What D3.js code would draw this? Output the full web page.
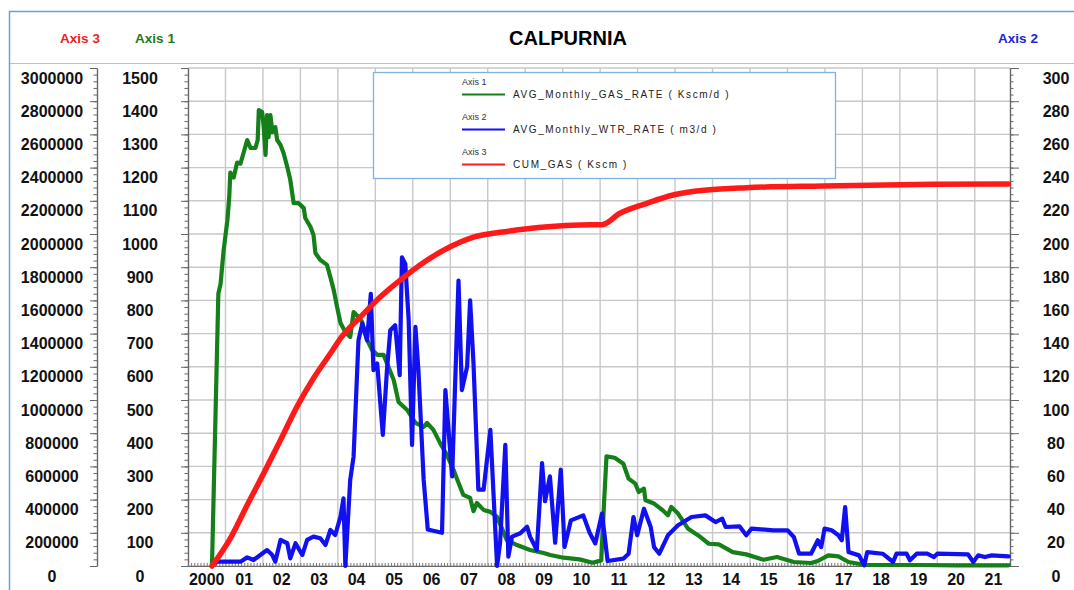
<!DOCTYPE html>
<html>
<head>
<meta charset="utf-8">
<script src="https://cdn.jsdelivr.net/npm/d3@7"></script>
<style>
  body { margin: 0; background: #fff; }
  svg { display: block; font-family: "Liberation Sans", Arial, sans-serif; }
</style>
</head>
<body>
<div id="chart"></div>
<script>
// [decimal year, value]
const gasRate = [
  [2000.64, 0], [2000.81, 820], [2000.87, 850], [2000.95, 950], [2001.05, 1040],
  [2001.10, 1110], [2001.13, 1185], [2001.22, 1170], [2001.31, 1215], [2001.40, 1212],
  [2001.49, 1247], [2001.58, 1283], [2001.67, 1259], [2001.80, 1259], [2001.86, 1283],
  [2001.89, 1373], [2001.98, 1367], [2002.02, 1322], [2002.07, 1238], [2002.11, 1358],
  [2002.15, 1292], [2002.20, 1358], [2002.25, 1307], [2002.33, 1322], [2002.38, 1283],
  [2002.47, 1268], [2002.55, 1244], [2002.65, 1202], [2002.73, 1163], [2002.82, 1093],
  [2002.95, 1093], [2003.09, 1078], [2003.13, 1048], [2003.27, 1021], [2003.35, 997],
  [2003.40, 943], [2003.53, 922], [2003.71, 907], [2003.80, 870], [2003.89, 831],
  [2003.98, 780], [2004.07, 732], [2004.20, 705], [2004.33, 690], [2004.42, 765],
  [2004.55, 750], [2004.65, 735], [2004.78, 681], [2004.91, 651], [2005.05, 636],
  [2005.22, 636], [2005.31, 611], [2005.49, 560], [2005.62, 494], [2005.85, 470],
  [2006.07, 431], [2006.29, 419], [2006.38, 431], [2006.55, 410], [2006.73, 370],
  [2006.91, 335], [2007.09, 289], [2007.18, 262], [2007.35, 214], [2007.53, 205],
  [2007.62, 165], [2007.71, 190], [2007.89, 169], [2008.07, 163], [2008.25, 148],
  [2008.51, 78], [2008.78, 63], [2009.13, 48], [2009.49, 39], [2009.67, 33],
  [2010.02, 25], [2010.45, 20], [2010.80, 10], [2011.03, 17], [2011.10, 180],
  [2011.17, 330], [2011.39, 326], [2011.62, 308], [2011.76, 263], [2011.94, 248],
  [2012.03, 223], [2012.17, 233], [2012.21, 198], [2012.44, 188], [2012.67, 168],
  [2012.81, 153], [2012.90, 178], [2013.08, 158], [2013.35, 112], [2013.62, 92],
  [2013.90, 67], [2014.17, 65], [2014.54, 42], [2014.90, 35], [2015.36, 19],
  [2015.72, 27], [2016.17, 12], [2016.63, 9], [2016.81, 15], [2017.09, 32],
  [2017.36, 29], [2017.63, 12], [2018.09, 3], [2019.45, 3], [2020.50, 2], [2021.90, 2]
];

const waterRate = [
  [2000.64, 0], [2000.78, 2.6], [2001.40, 2.6], [2001.58, 5.2], [2001.75, 3.6],
  [2001.93, 6.6], [2002.11, 9.6], [2002.25, 6.6], [2002.33, 2.6], [2002.47, 15.7],
  [2002.65, 13.7], [2002.73, 4.6], [2002.87, 13.7], [2003.05, 6.6], [2003.18, 15.7],
  [2003.35, 17.7], [2003.53, 16.7], [2003.67, 12.7], [2003.80, 21.7], [2003.93, 18.7],
  [2004.07, 29.7], [2004.15, 40.8], [2004.20, 0], [2004.33, 52], [2004.42, 66],
  [2004.55, 136], [2004.65, 146], [2004.78, 136], [2004.88, 164], [2004.95, 118],
  [2005.05, 122], [2005.20, 79], [2005.31, 118], [2005.40, 142], [2005.53, 145],
  [2005.65, 115], [2005.71, 186], [2005.80, 182], [2005.89, 148], [2005.98, 73],
  [2006.07, 144], [2006.15, 118], [2006.29, 52], [2006.40, 22], [2006.78, 20],
  [2006.87, 106], [2007.05, 54], [2007.22, 172], [2007.31, 106], [2007.45, 120],
  [2007.53, 160], [2007.62, 122], [2007.75, 46], [2007.89, 46], [2008.07, 82],
  [2008.25, 0], [2008.33, 14], [2008.47, 73], [2008.55, 5.6], [2008.65, 17.7],
  [2008.87, 19.7], [2009.05, 23.7], [2009.13, 17.7], [2009.31, 9.6], [2009.45, 62],
  [2009.53, 39], [2009.66, 54], [2009.80, 14], [2009.95, 58], [2010.05, 11.5],
  [2010.22, 27.5], [2010.55, 30.5], [2010.72, 20], [2010.87, 13.6], [2011.05, 31.6],
  [2011.20, 3], [2011.62, 4.4], [2011.76, 7.4], [2011.89, 29.5], [2011.99, 18.5],
  [2012.17, 34.5], [2012.35, 23.5], [2012.44, 11.4], [2012.58, 7.4], [2012.81, 18.5],
  [2013.08, 24.5], [2013.44, 29.5], [2013.81, 30.5], [2014.08, 26.5], [2014.26, 28.5],
  [2014.35, 23.5], [2014.72, 23.9], [2014.90, 18.5], [2015.04, 22.5], [2015.63, 21.5],
  [2016.00, 21.5], [2016.17, 17.5], [2016.31, 7.4], [2016.63, 7.4], [2016.81, 15.5],
  [2016.90, 11.4], [2016.99, 22.5], [2017.18, 21.5], [2017.36, 18.5], [2017.45, 15.5],
  [2017.54, 35.5], [2017.63, 8.4], [2017.91, 6.4], [2018.05, 0.4], [2018.13, 8.4],
  [2018.54, 7.4], [2018.82, 2.4], [2018.91, 7.4], [2019.18, 7.4], [2019.27, 3.4],
  [2019.45, 7.4], [2019.73, 7.4], [2019.91, 5.4], [2020.00, 7.4], [2020.82, 7.0],
  [2020.96, 2.4], [2021.09, 6.4], [2021.27, 5.4], [2021.45, 6.4], [2021.90, 5.8]
];

const cumGas = [
  [2000.64, 0], [2001.13, 167000], [2001.58, 367000], [2002.02, 558000],
  [2002.47, 759000], [2002.91, 960000], [2003.35, 1131000], [2003.80, 1280000],
  [2004.10, 1380000], [2004.69, 1520000], [2005.13, 1620000], [2005.67, 1723000],
  [2006.30, 1830000], [2007.00, 1923000], [2007.60, 1980000], [2008.33, 2010000],
  [2009.00, 2030000], [2009.70, 2045000], [2010.47, 2054000], [2011.05, 2056000],
  [2011.53, 2125000], [2012.25, 2185000], [2012.95, 2235000], [2013.85, 2265000],
  [2014.91, 2279000], [2016.95, 2289000], [2019.89, 2299000], [2021.90, 2301000]
];

const yearLabels = ["2000", "01", "02", "03", "04", "05", "06", "07", "08", "09", "10",
  "11", "12", "13", "14", "15", "16", "17", "18", "19", "20", "21"];
const axis1Ticks = d3.range(0, 1501, 100);
const axis2Ticks = d3.range(0, 301, 20);
const axis3Ticks = d3.range(0, 3000001, 200000);

const seriesInfo = [
  { axis: "Axis 1", name: "AVG_Monthly_GAS_RATE ( Kscm/d )", color: "#15801a" },
  { axis: "Axis 2", name: "AVG_Monthly_WTR_RATE ( m3/d )", color: "#1010f0" },
  { axis: "Axis 3", name: "CUM_GAS ( Kscm )", color: "#ff1a1a" }
];

const width = 1074, height = 590;
const plot = { left: 188, right: 1010, top: 68, bottom: 566 };

const svg = d3.select("#chart").append("svg")
  .attr("width", width)
  .attr("height", height);

const x = d3.scaleLinear().domain([2000, 2021.94]).range([plot.left, plot.right]);
const y1 = d3.scaleLinear().domain([0, 1500]).range([plot.bottom, plot.top]);
const y2 = d3.scaleLinear().domain([0, 300]).range([plot.bottom, plot.top]);
const y3 = d3.scaleLinear().domain([0, 3000000]).range([plot.bottom, plot.top]);

// frame + header separator
svg.append("rect")
  .attr("x", 9.5).attr("y", 11.5)
  .attr("width", 1080).attr("height", 600)
  .attr("fill", "none").attr("stroke", "#6c9fd6").attr("stroke-width", 1.5);
svg.append("line")
  .attr("x1", 10).attr("x2", width).attr("y1", 63.5).attr("y2", 63.5)
  .attr("stroke", "#bdbdbd").attr("stroke-width", 1.2);

svg.append("text")
  .attr("x", 568).attr("y", 45)
  .attr("text-anchor", "middle")
  .style("font-size", "20px").style("font-weight", "700")
  .text("CALPURNIA");

const axisTitles = [
  { text: "Axis 3", x: 80, color: "#ee1c24" },
  { text: "Axis 1", x: 155, color: "#1f7a1f" },
  { text: "Axis 2", x: 1018, color: "#2424d8" }
];
svg.selectAll(".axis-title")
  .data(axisTitles)
  .join("text")
  .attr("class", "axis-title")
  .attr("x", (d) => d.x).attr("y", 43)
  .attr("text-anchor", "middle")
  .style("font-size", "13.5px").style("font-weight", "700")
  .style("fill", (d) => d.color)
  .text((d) => d.text);

// grid
const grid = svg.append("g").attr("stroke", "#c8c8c8").attr("stroke-width", 1.4);
grid.selectAll(".hgrid")
  .data(axis1Ticks)
  .join("line")
  .attr("x1", plot.left).attr("x2", plot.right)
  .attr("y1", (d) => y1(d)).attr("y2", (d) => y1(d));
grid.selectAll(".vgrid")
  .data(d3.range(2001, 2022))
  .join("line")
  .attr("x1", (d) => x(d)).attr("x2", (d) => x(d))
  .attr("y1", plot.top).attr("y2", plot.bottom);

// y axes: ticks via d3 axes
function styleAxis(g) {
  g.select(".domain").attr("stroke", "#666").attr("stroke-width", 1.2);
  g.selectAll(".tick line").attr("stroke", "#666");
  g.selectAll("text").remove();
}

const axisDefs = [
  { scale: y3, pos: 97, side: "left", major: axis3Ticks, step: 40000, max: 3000000 },
  { scale: y1, pos: plot.left, side: "left", major: axis1Ticks, step: 20, max: 1500 },
  { scale: y2, pos: plot.right, side: "right", major: axis2Ticks, step: 4, max: 300 }
];

axisDefs.forEach((a) => {
  const maker = a.side === "left" ? d3.axisLeft : d3.axisRight;
  const minor = d3.range(0, a.max + a.step / 2, a.step);
  svg.append("g")
    .attr("transform", `translate(${a.pos},0)`)
    .call(maker(a.scale).tickValues(minor).tickSize(3.5).tickSizeOuter(0).tickFormat(""))
    .call(styleAxis);
  svg.append("g")
    .attr("transform", `translate(${a.pos},0)`)
    .call(maker(a.scale).tickValues(a.major).tickSize(a.side === "left" ? 7 : 9).tickSizeOuter(0).tickFormat(""))
    .call(styleAxis);
});

const labelDefs = [
  { ticks: axis3Ticks, scale: y3, cx: 52 },
  { ticks: axis1Ticks, scale: y1, cx: 140 },
  { ticks: axis2Ticks, scale: y2, cx: 1056 }
];
labelDefs.forEach((l) => {
  svg.append("g")
    .selectAll("text")
    .data(l.ticks)
    .join("text")
    .attr("x", l.cx)
    .attr("y", (d) => l.scale(d) + 15.5)
    .attr("text-anchor", "middle")
    .style("font-size", "16px").style("font-weight", "700").style("fill", "#111")
    .text((d) => d);
});

// x axis: monthly minor ticks, year labels mid-year
svg.append("g")
  .attr("transform", `translate(0,${plot.bottom})`)
  .call(d3.axisBottom(x)
    .tickValues(d3.range(0, 264).map((i) => 2000 + i / 12))
    .tickSize(-3).tickSizeOuter(0).tickFormat(""))
  .call((g) => g.select(".domain").attr("stroke", "#666").attr("stroke-width", 1.2))
  .call((g) => g.selectAll(".tick line").attr("stroke", "#777"));

svg.append("g")
  .selectAll("text")
  .data(yearLabels)
  .join("text")
  .attr("x", (d, i) => x(2000 + i + 0.5))
  .attr("y", 585)
  .attr("text-anchor", "middle")
  .style("font-size", "16px").style("font-weight", "700").style("fill", "#111")
  .text((d) => d);

// legend
const legend = svg.append("g");
legend.append("rect")
  .attr("x", 373.5).attr("y", 72.5)
  .attr("width", 462).attr("height", 106)
  .attr("fill", "#fff").attr("stroke", "#7fb0e0").attr("stroke-width", 1.3);
seriesInfo.forEach((s, i) => {
  const top = [85, 120, 155][i];
  legend.append("text")
    .attr("x", 462).attr("y", top)
    .style("font-size", "9px").style("fill", "#333")
    .text(s.axis);
  legend.append("line")
    .attr("x1", 462).attr("x2", 505)
    .attr("y1", top + 9.5).attr("y2", top + 9.5)
    .attr("stroke", s.color).attr("stroke-width", 2);
  legend.append("text")
    .attr("x", 513).attr("y", top + 13)
    .style("font-size", "10px").style("letter-spacing", "1.6px").style("fill", "#222")
    .text(s.name);
});

// series
const lines = [
  { data: gasRate, scale: y1, color: seriesInfo[0].color, w: 4.2, curve: d3.curveLinear },
  { data: waterRate, scale: y2, color: seriesInfo[1].color, w: 4.2, curve: d3.curveLinear },
  { data: cumGas, scale: y3, color: seriesInfo[2].color, w: 5.5, curve: d3.curveMonotoneX }
];
lines.forEach((s) => {
  const line = d3.line().curve(s.curve).x((d) => x(d[0])).y((d) => s.scale(d[1]));
  svg.append("path")
    .datum(s.data)
    .attr("d", line)
    .attr("fill", "none")
    .attr("stroke", s.color)
    .attr("stroke-width", s.w)
    .attr("stroke-linejoin", "round")
    .attr("stroke-linecap", "round");
});
</script>
</body>
</html>
